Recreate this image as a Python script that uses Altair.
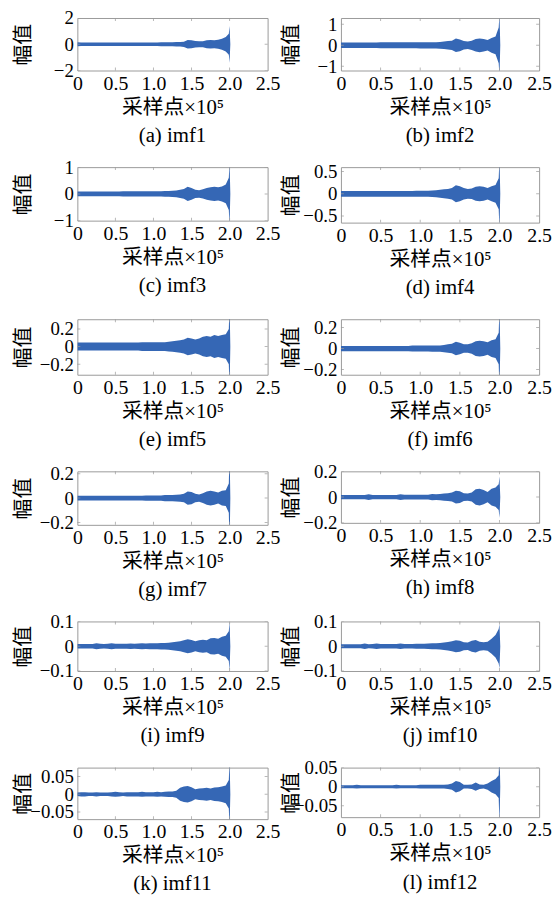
import altair as alt
import pandas as pd

# ---------------- data ----------------
# sample position (x 10^5) at which the signal envelope was read
X = [0.00, 0.05, 0.10, 0.15, 0.20, 0.25, 0.30, 0.35, 0.40, 0.45,
     0.50, 0.55, 0.60, 0.65, 0.70, 0.75, 0.80, 0.85, 0.90, 0.95,
     1.00, 1.05, 1.10, 1.15, 1.20, 1.25, 1.30, 1.35, 1.40, 1.45,
     1.50, 1.55, 1.60, 1.65, 1.70, 1.75, 1.80, 1.85, 1.90, 1.95,
     1.99, 2.00, 2.01]

# half-width of the signal band (amplitude envelope) of each IMF
IMF1 = [0.15, 0.14, 0.14, 0.13, 0.13, 0.13, 0.13, 0.13, 0.14, 0.13,
        0.13, 0.13, 0.13, 0.13, 0.14, 0.13, 0.14, 0.13, 0.14, 0.14,
        0.14, 0.14, 0.15, 0.15, 0.15, 0.16, 0.17, 0.18, 0.20, 0.33,
        0.30, 0.25, 0.22, 0.22, 0.30, 0.32, 0.30, 0.35, 0.42, 0.55,
        0.80, 1.40, 0.0]
IMF2 = [0.13, 0.13, 0.13, 0.13, 0.13, 0.13, 0.13, 0.13, 0.13, 0.13,
        0.14, 0.14, 0.14, 0.14, 0.14, 0.14, 0.14, 0.14, 0.14, 0.14,
        0.15, 0.15, 0.15, 0.15, 0.15, 0.16, 0.18, 0.20, 0.22, 0.32,
        0.28, 0.20, 0.18, 0.22, 0.30, 0.33, 0.30, 0.25, 0.35, 0.42,
        0.85, 1.50, 0.0]
IMF3 = [0.09, 0.09, 0.09, 0.09, 0.09, 0.09, 0.09, 0.09, 0.09, 0.09,
        0.09, 0.09, 0.10, 0.10, 0.10, 0.10, 0.10, 0.10, 0.10, 0.10,
        0.10, 0.10, 0.10, 0.11, 0.11, 0.12, 0.13, 0.15, 0.18, 0.27,
        0.22, 0.15, 0.14, 0.17, 0.22, 0.25, 0.27, 0.25, 0.28, 0.35,
        0.60, 1.20, 0.0]
IMF4 = [0.065, 0.065, 0.065, 0.065, 0.065, 0.065, 0.065, 0.065, 0.065, 0.065,
        0.065, 0.065, 0.065, 0.065, 0.065, 0.065, 0.065, 0.065, 0.065, 0.07,
        0.07, 0.07, 0.07, 0.075, 0.08, 0.09, 0.10, 0.11, 0.13, 0.19,
        0.17, 0.13, 0.11, 0.12, 0.16, 0.17, 0.16, 0.13, 0.17, 0.20,
        0.35, 0.80, 0.0]
IMF5 = [0.045, 0.045, 0.045, 0.045, 0.045, 0.045, 0.045, 0.045, 0.045, 0.045,
        0.045, 0.045, 0.045, 0.045, 0.045, 0.045, 0.045, 0.05, 0.05, 0.05,
        0.05, 0.05, 0.05, 0.05, 0.055, 0.06, 0.065, 0.07, 0.08, 0.10,
        0.09, 0.08, 0.09, 0.11, 0.12, 0.11, 0.13, 0.12, 0.13, 0.14,
        0.20, 0.50, 0.0]
IMF6 = [0.025, 0.025, 0.025, 0.025, 0.025, 0.025, 0.025, 0.025, 0.025, 0.025,
        0.025, 0.025, 0.025, 0.025, 0.025, 0.025, 0.025, 0.025, 0.028, 0.028,
        0.028, 0.028, 0.028, 0.03, 0.03, 0.03, 0.035, 0.04, 0.045, 0.065,
        0.055, 0.04, 0.04, 0.05, 0.07, 0.075, 0.07, 0.06, 0.08, 0.09,
        0.15, 0.40, 0.0]
IMF7 = [0.02, 0.02, 0.02, 0.02, 0.02, 0.02, 0.02, 0.02, 0.02, 0.02,
        0.02, 0.02, 0.02, 0.02, 0.02, 0.02, 0.02, 0.02, 0.022, 0.022,
        0.022, 0.022, 0.022, 0.025, 0.025, 0.025, 0.028, 0.03, 0.035, 0.055,
        0.05, 0.035, 0.03, 0.04, 0.055, 0.06, 0.055, 0.045, 0.06, 0.065,
        0.12, 0.40, 0.0]
IMF8 = [0.017, 0.017, 0.017, 0.017, 0.017, 0.017, 0.017, 0.022, 0.017, 0.017,
        0.017, 0.017, 0.017, 0.017, 0.017, 0.022, 0.018, 0.018, 0.018, 0.018,
        0.018, 0.018, 0.018, 0.025, 0.022, 0.025, 0.028, 0.03, 0.035, 0.05,
        0.045, 0.03, 0.028, 0.035, 0.06, 0.065, 0.055, 0.04, 0.065, 0.075,
        0.10, 0.16, 0.0]
IMF9 = [0.009, 0.009, 0.009, 0.009, 0.009, 0.012, 0.01, 0.009, 0.01, 0.012,
        0.01, 0.01, 0.01, 0.01, 0.011, 0.01, 0.011, 0.012, 0.011, 0.012,
        0.012, 0.012, 0.013, 0.013, 0.014, 0.016, 0.018, 0.02, 0.024, 0.028,
        0.025, 0.02, 0.024, 0.026, 0.024, 0.032, 0.033, 0.03, 0.038, 0.042,
        0.06, 0.10, 0.0]
IMF10 = [0.008, 0.008, 0.008, 0.008, 0.008, 0.008, 0.011, 0.008, 0.009, 0.011,
         0.009, 0.009, 0.009, 0.009, 0.009, 0.011, 0.009, 0.009, 0.009, 0.01,
         0.01, 0.01, 0.011, 0.012, 0.012, 0.013, 0.015, 0.017, 0.02, 0.024,
         0.022, 0.016, 0.015, 0.022, 0.025, 0.018, 0.016, 0.018, 0.03, 0.045,
         0.07, 0.09, 0.0]
IMF11 = [0.005, 0.006, 0.006, 0.005, 0.005, 0.006, 0.005, 0.005, 0.005, 0.006,
         0.007, 0.006, 0.005, 0.006, 0.006, 0.006, 0.006, 0.007, 0.006, 0.006,
         0.006, 0.007, 0.006, 0.007, 0.008, 0.008, 0.01, 0.018, 0.022, 0.023,
         0.02, 0.014, 0.016, 0.017, 0.018, 0.016, 0.019, 0.02, 0.022, 0.025,
         0.04, 0.10, 0.0]
IMF12 = [0.004, 0.004, 0.004, 0.004, 0.005, 0.004, 0.004, 0.004, 0.004, 0.004,
         0.004, 0.004, 0.004, 0.004, 0.005, 0.004, 0.004, 0.004, 0.004, 0.004,
         0.005, 0.005, 0.005, 0.005, 0.005, 0.005, 0.005, 0.006, 0.008, 0.015,
         0.012, 0.005, 0.005, 0.006, 0.011, 0.006, 0.005, 0.008, 0.015, 0.02,
         0.03, 0.10, 0.0]

SIGNALS = [IMF1, IMF2, IMF3, IMF4, IMF5, IMF6, IMF7, IMF8, IMF9, IMF10, IMF11, IMF12]
CAPTIONS = ["(a) imf1", "(b) imf2", "(c) imf3", "(d) imf4", "(e) imf5", "(f) imf6",
            "(g) imf7", "(h) imf8", "(i) imf9", "(j) imf10", "(k) imf11", "(l) imf12"]
Y_DOMAINS = [[-2, 2], [-1.2, 1.3], [-1, 1], [-0.65, 0.6], [-0.32, 0.31], [-0.25, 0.28],
             [-0.22, 0.22], [-0.2, 0.2], [-0.1, 0.1], [-0.1, 0.1], [-0.07, 0.075], [-0.08, 0.05]]
Y_TICKS = [[-2, 0, 2], [-1, 0, 1], [-1, 0, 1], [-0.5, 0, 0.5], [-0.2, 0, 0.2], [-0.2, 0, 0.2],
           [-0.2, 0, 0.2], [-0.2, 0, 0.2], [-0.1, 0, 0.1], [-0.1, 0, 0.1], [-0.05, 0, 0.05], [-0.05, 0, 0.05]]
X_TICKS = [0, 0.5, 1.0, 1.5, 2.0, 2.5]
INNER_X_TICKS = [0.5, 1.0, 1.5, 2.0]
X_TITLE = "采样点×10⁵"
Y_TITLE = "幅值"

# ---------------- style ----------------
BLUE = "#3567b5"
BOX = "#9a9a9a"
SERIF = "Liberation Serif, Times New Roman, serif"
MIXED = "Liberation Serif, Noto Sans CJK SC, sans-serif"
CJK = "Noto Sans CJK SC"
HEIGHTS = [53, 53, 54, 56, 56, 56, 54, 52, 50, 50, 52, 50]
WIDTHS = [192, 200]
TITLE_X = [-54, -50]


def panel(i):
    col = i % 2
    w, h = WIDTHS[col], HEIGHTS[i]
    amp = SIGNALS[i]
    df = pd.DataFrame({"x": X, "hi": amp, "lo": [-a for a in amp]})
    xs = alt.Scale(domain=[0, 2.5], nice=False, zero=False)
    ys = alt.Scale(domain=Y_DOMAINS[i], nice=False, zero=False)
    x_axis = alt.Axis(values=X_TICKS,
                      labelExpr="datum.value == 0 ? '0' : format(datum.value, '.1f')",
                      title=X_TITLE, titleFont=MIXED, titleFontSize=21,
                      titleY=37, titleBaseline="middle", labelFontSize=20,
                      labelPadding=3, labelFlush=False, labelOverlap=False)
    y_axis = alt.Axis(values=Y_TICKS[i], format="~g", title=Y_TITLE,
                      titleFont=CJK, titleFontSize=21, titleX=TITLE_X[col],
                      titleBaseline="middle", labelPadding=4, labelOverlap=False)

    band = alt.Chart(df).mark_area(color=BLUE, clip=True).encode(
        x=alt.X("x:Q", scale=xs, axis=x_axis),
        y=alt.Y("hi:Q", scale=ys, axis=y_axis),
        y2="lo:Q",
    )
    xt = pd.DataFrame({"x": INNER_X_TICKS})
    yt = pd.DataFrame({"hi": Y_TICKS[i]})
    tick_x_bottom = alt.Chart(xt).mark_tick(orient="vertical", size=6, thickness=1,
                                            color=BOX, clip=True).encode(
        x=alt.X("x:Q", scale=xs, axis=x_axis), y=alt.value(h))
    tick_x_top = alt.Chart(xt).mark_tick(orient="vertical", size=6, thickness=1,
                                         color=BOX, clip=True).encode(
        x=alt.X("x:Q", scale=xs, axis=x_axis), y=alt.value(0))
    tick_y_left = alt.Chart(yt).mark_tick(orient="horizontal", size=6, thickness=1,
                                          color=BOX, clip=True).encode(
        y=alt.Y("hi:Q", scale=ys, axis=y_axis), x=alt.value(0))
    tick_y_right = alt.Chart(yt).mark_tick(orient="horizontal", size=6, thickness=1,
                                           color=BOX, clip=True).encode(
        y=alt.Y("hi:Q", scale=ys, axis=y_axis), x=alt.value(w))

    return alt.layer(band, tick_x_bottom, tick_x_top, tick_y_left, tick_y_right).properties(
        width=w, height=h,
        title=alt.TitleParams(CAPTIONS[i], orient="bottom", offset=8, font=SERIF,
                              fontSize=21, fontWeight="normal", color="black",
                              anchor="middle", baseline="top"),
    )


chart = alt.concat(
    *[panel(i) for i in range(12)],
    columns=2,
    spacing={"row": 97.5, "column": 74},
    bounds="flush",
    align="each",
).properties(
    padding={"left": 4, "top": -4, "right": 0, "bottom": 0},
    background="white",
).configure_view(
    stroke=BOX, strokeWidth=1
).configure_axis(
    domain=False, ticks=False, grid=False,
    labelFont=SERIF, labelFontSize=19, labelColor="black",
    titleColor="black", titleFontWeight="normal",
)

chart.save("out.html", embed_options={"renderer": "svg", "actions": False})
